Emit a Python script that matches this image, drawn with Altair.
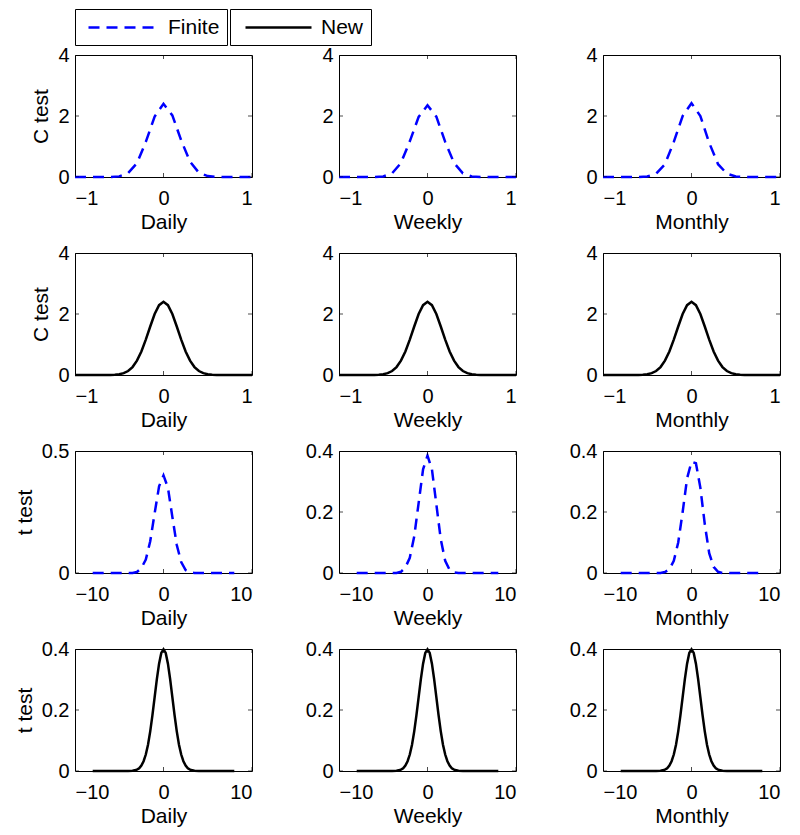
import altair as alt
import pandas as pd

FONT = "Liberation Sans"
FREQS = ["Daily", "Weekly", "Monthly"]

# ---- C test, Finite (dashed blue) ----
C_FIN_X = [-1.0, -0.9, -0.8, -0.7, -0.6, -0.5, -0.4, -0.3, -0.2, -0.1, 0.0,
           0.1, 0.2, 0.3, 0.4, 0.5, 0.6, 0.7, 0.8, 0.9, 1.0]
C_FIN_DAILY = [0, 0, 0, 0, 0, 0.02, 0.13, 0.45, 1.15, 1.98, 2.40,
               2.02, 1.20, 0.50, 0.14, 0.03, 0, 0, 0, 0, 0]
C_FIN_WEEKLY = [0, 0, 0, 0, 0, 0.02, 0.12, 0.46, 1.17, 1.97, 2.35,
                1.98, 1.15, 0.46, 0.12, 0.02, 0, 0, 0, 0, 0]
C_FIN_MONTHLY = [0, 0, 0, 0, 0, 0.02, 0.11, 0.42, 1.15, 2.00, 2.42,
                 2.00, 1.12, 0.42, 0.11, 0.02, 0, 0, 0, 0, 0]

# ---- C test, New (solid black) ----
C_NEW_X = [-1.0, -0.8, -0.6, -0.55, -0.5, -0.45, -0.4, -0.35, -0.3, -0.25, -0.2,
           -0.15, -0.1, -0.05, 0.0, 0.05, 0.1, 0.15, 0.2, 0.25, 0.3, 0.35, 0.4,
           0.45, 0.5, 0.55, 0.6, 0.8, 1.0]
C_NEW_DAILY = [0, 0, 0.004, 0.01, 0.026, 0.06, 0.13, 0.26, 0.47, 0.77, 1.16,
               1.59, 2.00, 2.29, 2.40, 2.29, 2.00, 1.59, 1.16, 0.77, 0.47, 0.26, 0.13,
               0.06, 0.026, 0.01, 0.004, 0, 0]
C_NEW_WEEKLY = C_NEW_DAILY
C_NEW_MONTHLY = C_NEW_DAILY

# ---- t test, Finite (dashed blue) ----
T_FIN_X = [-8, -7, -6, -5, -4, -3.5, -3, -2.5, -2, -1.5, -1, -0.5, 0,
           0.5, 1, 1.5, 2, 2.5, 3, 3.5, 4, 5, 6, 7, 8]
T_FIN_DAILY = [0, 0, 0, 0, 0, 0, 0.004, 0.02, 0.055, 0.13, 0.245, 0.355, 0.40,
               0.35, 0.23, 0.115, 0.045, 0.012, 0.002, 0, 0, 0, 0, 0, 0]
T_FIN_WEEKLY = [0, 0, 0, 0, 0, 0, 0.004, 0.018, 0.05, 0.12, 0.23, 0.34, 0.385,
                0.34, 0.225, 0.11, 0.04, 0.01, 0.002, 0, 0, 0, 0, 0, 0]
T_FIN_MONTHLY = [0, 0, 0, 0, 0, 0, 0.003, 0.012, 0.04, 0.10, 0.20, 0.31, 0.365,
                 0.36, 0.28, 0.16, 0.065, 0.02, 0.004, 0, 0, 0, 0, 0, 0]

# ---- t test, New (solid black) ----
T_NEW_X = [-8, -6, -4, -3.5, -3, -2.75, -2.5, -2.25, -2, -1.75, -1.5, -1.25, -1,
           -0.75, -0.5, -0.25, 0, 0.25, 0.5, 0.75, 1, 1.25, 1.5, 1.75, 2, 2.25,
           2.5, 2.75, 3, 3.5, 4, 6, 8]
T_NEW_DAILY = [0, 0, 0, 0.001, 0.0044, 0.009, 0.018, 0.032, 0.054, 0.086, 0.130,
               0.183, 0.242, 0.301, 0.352, 0.387, 0.399, 0.387, 0.352, 0.301, 0.242,
               0.183, 0.130, 0.086, 0.054, 0.032, 0.018, 0.009, 0.0044, 0.001, 0, 0, 0]
T_NEW_WEEKLY = T_NEW_DAILY
T_NEW_MONTHLY = T_NEW_DAILY

C_XDOM, C_XTICKS = [-1, 1], [-1, 0, 1]
T_XDOM, T_XTICKS = [-10, 10], [-10, 0, 10]
C_YDOM, C_YTICKS = [0, 4], [0, 2, 4]
T_YDOM_A, T_YTICKS_A = [0, 0.5], [0, 0.5]
T_YDOM_B, T_YTICKS_B = [0, 0.4], [0, 0.2, 0.4]

LEG_COMMON = dict(
    title=None, orient="none", direction="horizontal", legendY=-46,
    symbolType="M-3.3,0H3.3", symbolStrokeWidth=2.5, symbolSize=400,
    symbolFillColor="transparent",
    labelFontSize=21, labelFont=FONT, labelColor="black",
    padding=7, strokeColor="black", fillColor="white", cornerRadius=0,
)
COLOR_ENC = alt.Color(
    "series:N",
    scale=alt.Scale(domain=["Finite"], range=["#0000ff"]),
    legend=alt.Legend(legendX=0, symbolDash=[11, 7], symbolOffset=28,
                      labelOffset=35, **LEG_COMMON),
)
STROKE_ENC = alt.Stroke(
    "series:N",
    scale=alt.Scale(domain=["New"], range=["#000000"]),
    legend=alt.Legend(legendX=155, symbolOffset=30, labelOffset=31, **LEG_COMMON),
)


def panel(xs, ys, series, xdom, xticks, ydom, yticks, xtitle, ytitle):
    df = pd.DataFrame({"x": xs, "y": ys, "series": series})
    xsc = alt.Scale(domain=xdom, nice=False, zero=False)
    ysc = alt.Scale(domain=ydom, nice=False, zero=False)
    xax = alt.Axis(values=xticks, format="~r", title=xtitle, labelPadding=11,
                   titlePadding=3)
    yax = alt.Axis(values=yticks, format="~r", title=ytitle, labelPadding=6,
                   titlePadding=6)
    x = alt.X("x:Q", scale=xsc, axis=xax)
    y = alt.Y("y:Q", scale=ysc, axis=yax)
    if series == "Finite":
        line = alt.Chart(df).mark_line(strokeWidth=2.5, strokeDash=[11, 7]).encode(
            x=x, y=y, color=COLOR_ENC)
    else:
        line = alt.Chart(df).mark_line(strokeWidth=2.5).encode(
            x=x, y=y, stroke=STROKE_ENC)
    xt = pd.DataFrame({"x": xticks})
    yt = pd.DataFrame({"y": yticks})
    tk = dict(size=8, thickness=1, color="black", clip=True)
    layers = [line]
    for yd in ydom:
        layers.append(alt.Chart(xt).mark_tick(orient="vertical", **tk).encode(
            x=x, y=alt.YDatum(yd, type="quantitative", scale=ysc, axis=yax)))
    for xd in xdom:
        layers.append(alt.Chart(yt).mark_tick(orient="horizontal", **tk).encode(
            y=y, x=alt.XDatum(xd, type="quantitative", scale=xsc, axis=xax)))
    return alt.layer(*layers).properties(width=177, height=122)


rows = [
    ("Finite", C_FIN_X, [C_FIN_DAILY, C_FIN_WEEKLY, C_FIN_MONTHLY], C_XDOM, C_XTICKS,
     [(C_YDOM, C_YTICKS)] * 3, "C test"),
    ("New", C_NEW_X, [C_NEW_DAILY, C_NEW_WEEKLY, C_NEW_MONTHLY], C_XDOM, C_XTICKS,
     [(C_YDOM, C_YTICKS)] * 3, "C test"),
    ("Finite", T_FIN_X, [T_FIN_DAILY, T_FIN_WEEKLY, T_FIN_MONTHLY], T_XDOM, T_XTICKS,
     [(T_YDOM_A, T_YTICKS_A), (T_YDOM_B, T_YTICKS_B), (T_YDOM_B, T_YTICKS_B)], "t test"),
    ("New", T_NEW_X, [T_NEW_DAILY, T_NEW_WEEKLY, T_NEW_MONTHLY], T_XDOM, T_XTICKS,
     [(T_YDOM_B, T_YTICKS_B)] * 3, "t test"),
]

panels = []
for series, xs, ylist, xdom, xticks, yinfo, ytitle in rows:
    for i, (ys, (ydom, yticks)) in enumerate(zip(ylist, yinfo)):
        panels.append(panel(xs, ys, series, xdom, xticks, ydom, yticks,
                            FREQS[i], ytitle if i == 0 else None))

chart = alt.concat(
    *panels, columns=3, spacing={"row": 76, "column": 87}, bounds="flush"
).resolve_scale(x="independent", y="independent").properties(
    padding={"left": 5, "top": 0, "right": 0, "bottom": 0}
).configure_view(
    stroke="black", strokeWidth=1
).configure_axis(
    labelFont=FONT, labelFontSize=20, labelColor="black",
    titleFont=FONT, titleFontSize=21, titleFontWeight="normal", titleColor="black",
    domain=False, ticks=False, grid=False,
).configure_legend(
    labelFont=FONT,
)

chart.save("out.html", embed_options={"renderer": "svg", "actions": False})
